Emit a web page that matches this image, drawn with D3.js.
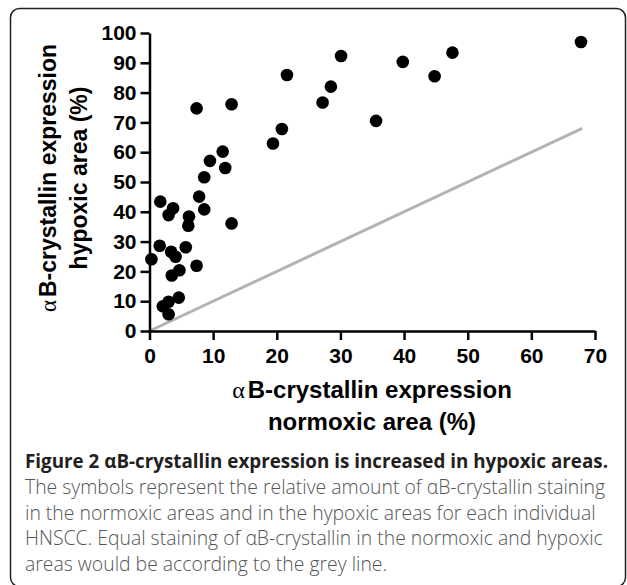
<!DOCTYPE html>
<html>
<head>
<meta charset="utf-8">
<script src="https://cdn.jsdelivr.net/npm/d3@7"></script>
<style>
  body { margin: 0; background: #fff; }
  .axis path, .axis line { stroke: #000; stroke-width: 2.5; }
  .axis text { font: bold 21px "Liberation Sans", Arial, sans-serif; fill: #000; }
  .label { font: bold 24px "Liberation Sans", Arial, sans-serif; fill: #000; }
  .alpha { font-family: "Liberation Serif", serif; font-weight: normal; }
  .cap { font-family: "Open Sans", sans-serif; font-size: 19.4px; }
</style>
</head>
<body>
<svg width="627" height="585"></svg>
<script>
// normoxic (x) vs hypoxic (y) alphaB-crystallin expression, % per tumour
var normoxic = [0.3, 1.6, 1.7, 2.1, 3.0, 3.0, 3.0, 3.4, 3.5, 3.7, 4.1, 4.6, 4.7, 5.7, 6.1,
                6.2, 7.4, 7.4, 7.8, 8.6, 8.6, 9.5, 11.5, 11.9, 12.9, 12.9, 19.4, 20.8, 21.6,
                27.2, 28.5, 30.1, 35.6, 39.8, 44.8, 47.6, 67.8];
var hypoxic = [24.1, 28.6, 43.4, 8.3, 5.6, 9.8, 38.9, 26.6, 18.6, 41.2, 24.9, 11.2, 20.4, 28.1, 35.3,
               38.4, 21.9, 74.7, 45.1, 51.6, 40.8, 57.1, 60.2, 54.7, 76.1, 36.1, 62.9, 67.8, 85.9,
               76.7, 82.0, 92.3, 70.5, 90.3, 85.5, 93.4, 97.0];
var xTicks = [0, 10, 20, 30, 40, 50, 60, 70];
var yTicks = [0, 10, 20, 30, 40, 50, 60, 70, 80, 90, 100];
var identityLine = [0, 68];

var caption = [
  "The symbols represent the relative amount of \u03b1B-crystallin staining",
  "in the normoxic areas and in the hypoxic areas for each individual",
  "HNSCC. Equal staining of \u03b1B-crystallin in the normoxic and hypoxic",
  "areas would be according to the grey line."
];

var svg = d3.select("svg");

// rounded frame
svg.append("rect")
  .attr("x", 10.5).attr("y", 8.5)
  .attr("width", 615).attr("height", 578)
  .attr("rx", 9)
  .attr("fill", "none")
  .attr("stroke", "#222")
  .attr("stroke-width", 1.5);

var x = d3.scaleLinear().domain([0, 70]).range([149.5, 595]),
    y = d3.scaleLinear().domain([0, 100]).range([331, 33]);

// line of equality
svg.append("line")
  .attr("x1", x(identityLine[0])).attr("y1", y(identityLine[0]))
  .attr("x2", x(identityLine[1])).attr("y2", y(identityLine[1]))
  .attr("stroke", "#b3b3b3")
  .attr("stroke-width", 3);

svg.append("g")
  .attr("class", "axis")
  .attr("transform", "translate(0," + y(0) + ")")
  .call(d3.axisBottom(x).tickValues(xTicks).tickSize(9).tickSizeOuter(0).tickPadding(4))
  .selectAll("text").attr("dy", "0.9em");

svg.append("g")
  .attr("class", "axis")
  .attr("transform", "translate(" + x(0) + ",0)")
  .call(d3.axisLeft(y).tickValues(yTicks).tickSize(9).tickSizeOuter(0).tickPadding(4));

svg.selectAll(".dot")
  .data(normoxic)
  .enter().append("circle")
  .attr("class", "dot")
  .attr("cx", function(d) { return x(d); })
  .attr("cy", function(d, i) { return y(hypoxic[i]); })
  .attr("r", 6.3)
  .attr("fill", "#000");

// axis titles
function alphaTitle(t) {
  t.append("tspan").attr("class", "alpha").text("\u03b1");
  t.append("tspan").attr("dx", 3).text("B-crystallin expression");
}
svg.append("text").attr("class", "label")
  .attr("x", 372).attr("y", 398).attr("text-anchor", "middle")
  .call(alphaTitle);
svg.append("text").attr("class", "label")
  .attr("x", 372).attr("y", 430).attr("text-anchor", "middle")
  .text("normoxic area (%)");

svg.append("text").attr("class", "label")
  .attr("transform", "translate(56,178) rotate(-90)")
  .attr("text-anchor", "middle")
  .style("font-size", "23px")
  .call(alphaTitle);
svg.append("text").attr("class", "label")
  .attr("transform", "translate(87,178) rotate(-90)")
  .attr("text-anchor", "middle")
  .style("font-size", "23px")
  .text("hypoxic area (%)");

// caption
svg.append("text").attr("class", "cap")
  .attr("x", 25).attr("y", 468)
  .attr("font-weight", "bold").attr("fill", "#231f20")
  .attr("textLength", 583).attr("lengthAdjust", "spacingAndGlyphs")
  .text("Figure 2 \u03b1B-crystallin expression is increased in hypoxic areas.");

svg.selectAll(".capline")
  .data(caption)
  .enter().append("text")
  .attr("class", "cap capline")
  .attr("x", 25)
  .attr("y", function(d, i) { return 494 + i * 25.5; })
  .attr("font-weight", 300)
  .attr("fill", "#555")
  .text(function(d) { return d; });
</script>
</body>
</html>
